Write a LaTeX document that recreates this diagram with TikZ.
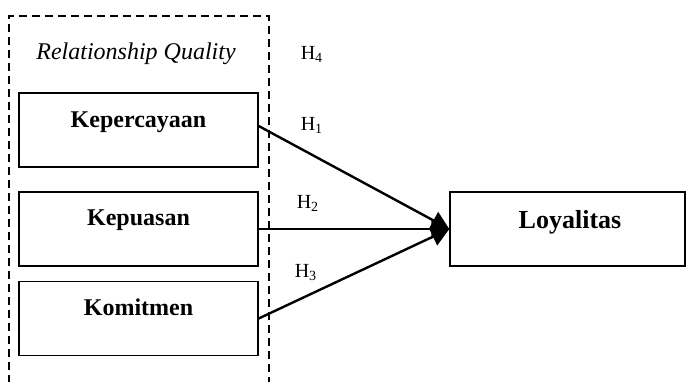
\documentclass[tikz,border=0pt]{standalone}
\usepackage{fontspec}
\setmainfont{Liberation Serif}
\usetikzlibrary{arrows.meta}
\begin{document}
\begin{tikzpicture}[x=0.5pt,y=-0.5pt,
  box/.style={draw,line width=0.7pt,minimum width=119.5pt,minimum height=37pt,inner sep=0pt},
  lbl/.style={anchor=base,inner sep=0pt,font=\fontsize{12}{14}\selectfont\bfseries},
  hlbl/.style={anchor=base,inner sep=0pt,font=\fontsize{10}{12}\selectfont},
  conn/.style={line width=1.2pt,-{Triangle[length=9pt,width=9.5pt]}}]
\useasboundingbox (0,0) rectangle (686,381);
% dashed group
\draw[line width=0.7pt,dash pattern=on 4pt off 2.5pt] (9,383) -- (9,16) -- (269,16) -- (269,383);
\node[anchor=base,inner sep=0pt,font=\fontsize{12}{14}\selectfont\itshape] (rq) at (136,59) {Relationship Quality};
% boxes
\node[box] (kep) at (138.5,130) {};
\node[lbl] (kept) at (138.5,127) {Kepercayaan};
\node[box] (kpu) at (138.5,229) {};
\node[lbl] (kput) at (138.5,225) {Kepuasan};
\node[box] (kom) at (138.5,318.5) {};
\node[lbl] (komt) at (138.5,315) {Komitmen};
\node[box,minimum width=117.5pt] (loy) at (567.5,229) {};
\node[lbl,font=\fontsize{13}{15}\selectfont\bfseries] (loyt) at (570,228) {Loyalitas};
% hypothesis labels
\node[hlbl] (h4) at (312,59) {H\textsubscript{4}};
\node[hlbl] (h1) at (312,130) {H\textsubscript{1}};
\node[hlbl] (h2) at (308,208) {H\textsubscript{2}};
\node[hlbl] (h3) at (306,277) {H\textsubscript{3}};
% connectors
\draw[conn] (kep.east) ++(0,-4) -- (loy.west);
\draw[conn] (kpu.east) -- (loy.west);
\draw[conn] (kom.east) -- (loy.west);
\end{tikzpicture}
\end{document}
